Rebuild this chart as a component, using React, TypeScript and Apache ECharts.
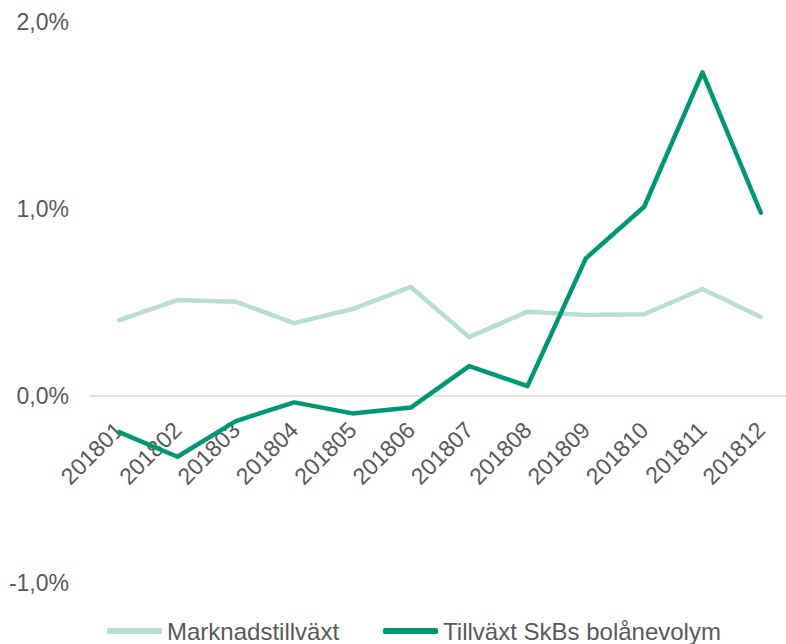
import React, { useEffect, useRef } from "react";
import * as echarts from "echarts";

const categories = ["201801", "201802", "201803", "201804", "201805", "201806", "201807", "201808", "201809", "201810", "201811", "201812"];
const marketGrowth = [0.406, 0.513, 0.504, 0.39, 0.465, 0.583, 0.315, 0.451, 0.433, 0.437, 0.572, 0.422];
const skbGrowth = [-0.193, -0.325, -0.134, -0.034, -0.093, -0.062, 0.16, 0.053, 0.736, 1.012, 1.731, 0.98];
const seriesNames = ["Marknadstillväxt", "Tillväxt SkBs bolånevolym"];

const FONT = "'Liberation Sans', Arial, sans-serif";

export default function App() {
  const ref = useRef<HTMLDivElement>(null);
  useEffect(() => {
    document.body.style.margin = "0";
    if (!ref.current) return;
    const chart = echarts.init(ref.current, null, { renderer: "svg" });
    chart.setOption({
      animation: false,
      backgroundColor: "#ffffff",
      grid: { left: 90, width: 700, top: 22, bottom: 61, outerBoundsMode: "none", containLabel: false },
      legend: {
        left: 102,
        top: 614,
        itemWidth: 55,
        itemHeight: 6,
        itemGap: 44,
        icon: "roundRect",
        textStyle: { fontFamily: FONT, fontSize: 24, lineHeight: 24, color: "#595959", padding: [0, 0, 0, 0] },
        data: seriesNames,
      },
      xAxis: {
        type: "category",
        data: categories,
        boundaryGap: true,
        offset: -187,
        axisLine: { onZero: false, lineStyle: { color: "#D9D9D9", width: 1.5 } },
        axisTick: { show: false },
        axisLabel: { rotate: 45, fontFamily: FONT, fontSize: 23, color: "#595959", margin: 30, interval: 0 },
      },
      yAxis: {
        type: "value",
        min: -1,
        max: 2,
        interval: 1,
        splitLine: { show: false },
        axisLine: { show: false },
        axisTick: { show: false },
        axisLabel: {
          fontFamily: FONT,
          fontSize: 23,
          color: "#595959",
          margin: 21,
          formatter: (v: number) => v.toFixed(1).replace(".", ",") + "%",
        },
      },
      series: [
        {
          name: seriesNames[0],
          type: "line",
          data: marketGrowth,
          symbol: "none",
          color: "#B9DDD3",
          lineStyle: { color: "#B9DDD3", width: 4.5, cap: "round", join: "round" },
        },
        {
          name: seriesNames[1],
          type: "line",
          data: skbGrowth,
          symbol: "none",
          color: "#009873",
          lineStyle: { color: "#009873", width: 4.5, cap: "round", join: "round" },
        },
      ],
    });
    return () => chart.dispose();
  }, []);
  return <div ref={ref} style={{ width: 786, height: 644 }} />;
}
